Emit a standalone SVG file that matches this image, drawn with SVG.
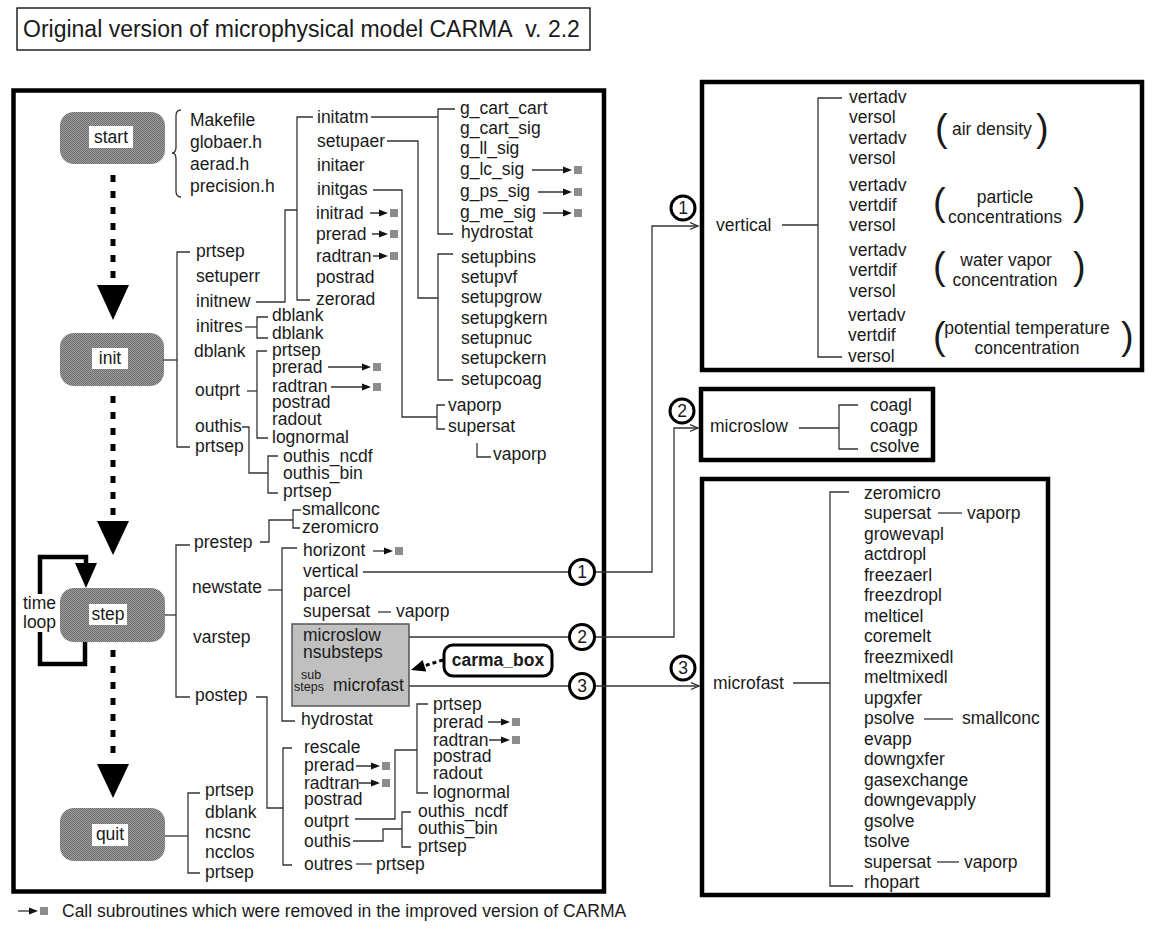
<svg xmlns="http://www.w3.org/2000/svg" xmlns:xlink="http://www.w3.org/1999/xlink" width="1152" height="931" viewBox="0 0 1152 931">
<style>
.t{font-family:"Liberation Sans",Arial,sans-serif;font-size:17.5px;fill:#1a1a1a}
.s{font-size:12.5px}
.p{font-size:38px;font-weight:normal}
.b{font-weight:bold}
.m{text-anchor:middle}
.ln{fill:none;stroke:#333;stroke-width:1.3}
.frame{fill:none;stroke:#000;stroke-width:4.5}
.node{fill:url(#dots)}
.lab{fill:#fff}
.dot{fill:none;stroke:#000;stroke-width:5;stroke-dasharray:7 9}
.circ{fill:#fff;stroke:#000;stroke-width:3}
</style>
<defs>
<pattern id="dots" width="2" height="2" patternUnits="userSpaceOnUse">
<rect width="2" height="2" fill="#a0a0a0"/>
<rect width="1" height="1" fill="#6c6c6c"/>
<rect x="1" y="1" width="1" height="1" fill="#6c6c6c"/>
</pattern>
<g id="rm"><path d="M-9,-3.5 L0,0 L-9,3.5 Z" fill="#111"/><rect x="2" y="-4" width="8" height="8" fill="#8c8c8c"/></g>
<marker id="open" markerWidth="10" markerHeight="10" refX="8" refY="4" orient="auto" markerUnits="userSpaceOnUse">
<path d="M0,0.5 L8,4 L0,7.5" fill="none" stroke="#333" stroke-width="1.3"/>
</marker>
</defs>
<rect width="1152" height="931" fill="#fff"/>

<g id="title">
<rect x="17" y="8" width="573" height="42" fill="none" stroke="#000" stroke-width="1.3"/>
<text class="t" x="23" y="37" style="font-size:23px">Original version of microphysical model CARMA&#160; v. 2.2</text>
</g>

<g id="main-frame"><rect class="frame" x="13.5" y="90.5" width="590.5" height="801"/></g>

<g id="node-start">
<rect class="node" x="60" y="112" width="105" height="52" rx="14"/>
<rect class="lab" x="89" y="126" width="44" height="22"/>
<text class="t m" x="111" y="143">start</text>
</g>
<g id="node-init">
<rect class="node" x="60" y="333" width="104" height="53" rx="14"/>
<rect class="lab" x="92" y="348" width="36" height="21"/>
<text class="t m" x="110" y="364">init</text>
</g>
<g id="node-step">
<rect class="node" x="60" y="588" width="105" height="54" rx="14"/>
<rect class="lab" x="89" y="604" width="38" height="21"/>
<text class="t m" x="108" y="620">step</text>
</g>
<g id="node-quit">
<rect class="node" x="60" y="808" width="105" height="53" rx="14"/>
<rect class="lab" x="92" y="824" width="36" height="22"/>
<text class="t m" x="110" y="840">quit</text>
</g>

<g id="flow">
<line class="dot" x1="113" y1="175" x2="113" y2="280"/>
<polygon points="97,285 129,285 113,320" fill="#000"/>
<line class="dot" x1="113" y1="396" x2="113" y2="515"/>
<polygon points="97,521 129,521 113,555" fill="#000"/>
<line class="dot" x1="113" y1="650" x2="113" y2="758"/>
<polygon points="97,764 129,764 113,798" fill="#000"/>
<path d="M85,642 V664 H40 V557 H86 V566" fill="none" stroke="#000" stroke-width="4.5"/>
<polygon points="75,563 97,563 86,588" fill="#000"/>
<rect x="22" y="594" width="37" height="38" fill="#fff"/>
<text class="t" x="23" y="609">time</text>
<text class="t" x="23" y="628">loop</text>
</g>

<g id="start-files">
<path class="ln" d="M181,110 Q176,110 176,116 V147 Q176,153 172,153 Q176,153 176,159 V191 Q176,197 181,197"/>
<text class="t" x="190" y="126">Makefile</text>
<text class="t" x="190" y="148">globaer.h</text>
<text class="t" x="190" y="170">aerad.h</text>
<text class="t" x="190" y="192">precision.h</text>
</g>

<g id="connectors">
<path class="ln" d="M163,360 H177"/>
<path class="ln" d="M190,252 H177 V447 H190"/>
<path class="ln" d="M256,302 H285 V210 H297"/>
<path class="ln" d="M313,117 H297 V300 H310"/>
<path class="ln" d="M371,117 H438"/>
<path class="ln" d="M455,109 H438 V234 H453"/>
<path class="ln" d="M387,141 H418 V298 H438"/>
<path class="ln" d="M453,254 H438 V380 H453"/>
<path class="ln" d="M373,190 H402 V417 H437"/>
<path class="ln" d="M445,405 H437 V429 H445"/>
<path class="ln" d="M477,443 V457 H491"/>
<path class="ln" d="M245,327 H257"/>
<path class="ln" d="M268,317 H257 V338 H268"/>
<path class="ln" d="M247,391 H257"/>
<path class="ln" d="M267,351 H257 V438 H268"/>
<path class="ln" d="M242,427 H249 V473 H268"/>
<path class="ln" d="M278,456 H268 V493 H278"/>
<path class="ln" d="M532,170 H565 M538,192 H565 M543,213 H565"/>
<path class="ln" d="M370,213 H381 M372,234 H381 M373,256 H381"/>
<path class="ln" d="M328,367 H364 M331,387 H364"/>
<path class="ln" d="M165,615 H176"/>
<path class="ln" d="M190,545 H176 V697 H190"/>
<path class="ln" d="M260,542 H269 V520 H293"/>
<path class="ln" d="M301,510 H293 V528 H300"/>
<path class="ln" d="M268,590 H282"/>
<path class="ln" d="M297,548 H282 V721 H295"/>
<path class="ln" d="M373,551 H386"/>
<path class="ln" d="M378,612 H391"/>
<path class="ln" d="M256,697 H267 V808 H283"/>
<path class="ln" d="M292,748 H283 V865 H292"/>
<path class="ln" d="M356,766 H373 M359,783 H373"/>
<path class="ln" d="M356,864 H372"/>
<path class="ln" d="M355,819 H395 V750 H417"/>
<path class="ln" d="M428,704 H417 V793 H428"/>
<path class="ln" d="M488,722 H503 M489,740 H503"/>
<path class="ln" d="M353,841 H383 V829 H402"/>
<path class="ln" d="M411,812 H402 V847 H411"/>
<path class="ln" d="M165,836 H188"/>
<path class="ln" d="M200,793 H188 V873 H200"/>
<path class="ln" d="M363,572 H570"/>
<path class="ln" d="M388,637 H570"/>
<path class="ln" d="M408,686 H570"/>
<path class="ln" d="M595,572 H652 V226 H698" marker-end="url(#open)"/>
<path class="ln" d="M595,637 H674 V428 H698" marker-end="url(#open)"/>
<path class="ln" d="M595,686 H699" marker-end="url(#open)"/>
<path class="ln" d="M327,671 V663 H346 V669"/>
<polygon points="342.5,668 349.5,668 346,675" fill="#111"/>
<path class="ln" d="M327,694 V699 H346 V694"/>
<line x1="443" y1="660" x2="425" y2="665.6" stroke="#000" stroke-width="3" stroke-dasharray="4 3"/>
<polygon points="411,670 422.6,660.1 426.2,671.5" fill="#000"/>
<use href="#rm" x="572" y="170"/>
<use href="#rm" x="572" y="192"/>
<use href="#rm" x="572" y="213"/>
<use href="#rm" x="388" y="213"/>
<use href="#rm" x="388" y="234"/>
<use href="#rm" x="388" y="256"/>
<use href="#rm" x="371" y="367"/>
<use href="#rm" x="371" y="387"/>
<use href="#rm" x="393" y="551"/>
<use href="#rm" x="380" y="766"/>
<use href="#rm" x="380" y="783"/>
<use href="#rm" x="510" y="722"/>
<use href="#rm" x="510" y="740"/>
</g>

<g id="init-calls">
<text class="t" x="196" y="257">prtsep</text>
<text class="t" x="196" y="282">setuperr</text>
<text class="t" x="196" y="307">initnew</text>
<text class="t" x="196" y="332">initres</text>
<text class="t" x="194" y="357">dblank</text>
<text class="t" x="195" y="396">outprt</text>
<text class="t" x="195" y="432">outhis</text>
<text class="t" x="195" y="452">prtsep</text>
</g>
<g id="initnew-calls">
<text class="t" x="317" y="122.5">initatm</text>
<text class="t" x="317" y="146.5">setupaer</text>
<text class="t" x="317" y="170.5">initaer</text>
<text class="t" x="317" y="194.5">initgas</text>
<text class="t" x="316" y="218.5">initrad</text>
<text class="t" x="316" y="239.5">prerad</text>
<text class="t" x="316" y="261.5">radtran</text>
<text class="t" x="316" y="282.5">postrad</text>
<text class="t" x="316" y="304.5">zerorad</text>
</g>
<g id="initatm-calls">
<text class="t" x="460" y="113.5">g_cart_cart</text>
<text class="t" x="460" y="133.5">g_cart_sig</text>
<text class="t" x="460" y="153.5">g_ll_sig</text>
<text class="t" x="460" y="174.5">g_lc_sig</text>
<text class="t" x="460" y="196.5">g_ps_sig</text>
<text class="t" x="460" y="217.5">g_me_sig</text>
<text class="t" x="461" y="237.5">hydrostat</text>
</g>
<g id="setupaer-calls">
<text class="t" x="461" y="263">setupbins</text>
<text class="t" x="461" y="283">setupvf</text>
<text class="t" x="461" y="303">setupgrow</text>
<text class="t" x="461" y="323.5">setupgkern</text>
<text class="t" x="461" y="343.5">setupnuc</text>
<text class="t" x="461" y="364">setupckern</text>
<text class="t" x="461" y="384.5">setupcoag</text>
</g>
<g id="initgas-calls">
<text class="t" x="448" y="411">vaporp</text>
<text class="t" x="448" y="432">supersat</text>
<text class="t" x="493" y="460">vaporp</text>
</g>
<g id="initres-calls">
<text class="t" x="272" y="321">dblank</text>
<text class="t" x="272" y="339">dblank</text>
</g>
<g id="outprt-calls-init">
<text class="t" x="272" y="356">prtsep</text>
<text class="t" x="272" y="373">prerad</text>
<text class="t" x="272" y="392">radtran</text>
<text class="t" x="272" y="408">postrad</text>
<text class="t" x="272" y="425">radout</text>
<text class="t" x="272" y="443">lognormal</text>
</g>
<g id="outhis-calls-init">
<text class="t" x="283" y="462">outhis_ncdf</text>
<text class="t" x="283" y="479">outhis_bin</text>
<text class="t" x="283" y="497">prtsep</text>
</g>

<g id="step-calls">
<text class="t" x="194" y="547.5">prestep</text>
<text class="t" x="192" y="593">newstate</text>
<text class="t" x="193" y="643">varstep</text>
<text class="t" x="195" y="701">postep</text>
</g>
<g id="prestep-calls">
<text class="t" x="302" y="515">smallconc</text>
<text class="t" x="302" y="533">zeromicro</text>
</g>
<g id="newstate-calls">
<text class="t" x="303" y="556">horizont</text>
<text class="t" x="303" y="576.5">vertical</text>
<text class="t" x="303" y="597">parcel</text>
<text class="t" x="303" y="617">supersat</text>
<text class="t" x="396" y="617">vaporp</text>
<text class="t" x="301" y="724.5">hydrostat</text>
</g>
<g id="carma-region">
<rect x="292" y="624" width="117" height="82" fill="#c0c0c0" stroke="#555" stroke-width="1.5"/>
<text class="t" x="303" y="641">microslow</text>
<text class="t" x="303" y="658">nsubsteps</text>
<text class="t s" x="301" y="679">sub</text>
<text class="t s" x="294" y="691">steps</text>
<text class="t" x="333" y="691">microfast</text>
</g>
<g id="carma-box-label">
<rect x="444" y="645" width="108" height="31" rx="9" fill="#fff" stroke="#000" stroke-width="3"/>
<text class="t b m" x="498" y="666">carma_box</text>
</g>
<g id="postep-calls">
<text class="t" x="304" y="752.5">rescale</text>
<text class="t" x="304" y="770.5">prerad</text>
<text class="t" x="304" y="788.5">radtran</text>
<text class="t" x="304" y="804.5">postrad</text>
<text class="t" x="304" y="826.5">outprt</text>
<text class="t" x="304" y="846.5">outhis</text>
<text class="t" x="304" y="869.5">outres</text>
<text class="t" x="376" y="869.5">prtsep</text>
</g>
<g id="outprt-calls-step">
<text class="t" x="433" y="709.5">prtsep</text>
<text class="t" x="433" y="727.5">prerad</text>
<text class="t" x="433" y="745.5">radtran</text>
<text class="t" x="433" y="761.5">postrad</text>
<text class="t" x="433" y="778.5">radout</text>
<text class="t" x="433" y="797.5">lognormal</text>
</g>
<g id="outhis-calls-step">
<text class="t" x="418" y="816.5">outhis_ncdf</text>
<text class="t" x="418" y="833.5">outhis_bin</text>
<text class="t" x="418" y="851.5">prtsep</text>
</g>
<g id="quit-calls">
<text class="t" x="205" y="795.5">prtsep</text>
<text class="t" x="205" y="817.5">dblank</text>
<text class="t" x="205" y="837.5">ncsnc</text>
<text class="t" x="205" y="857.5">ncclos</text>
<text class="t" x="205" y="877.5">prtsep</text>
</g>

<g id="ref-circles">
<circle class="circ" cx="582" cy="572" r="12.5"/><text class="t m" x="582" y="578">1</text>
<circle class="circ" cx="582" cy="637" r="12.5"/><text class="t m" x="582" y="643">2</text>
<circle class="circ" cx="582" cy="686" r="12.5"/><text class="t m" x="582" y="692">3</text>
<circle class="circ" cx="683" cy="208" r="12"/><text class="t m" x="683" y="214">1</text>
<circle class="circ" cx="682" cy="411" r="12"/><text class="t m" x="682" y="417">2</text>
<circle class="circ" cx="683" cy="668" r="12"/><text class="t m" x="683" y="674">3</text>
</g>

<g id="box-vertical">
<rect class="frame" x="702" y="82" width="440" height="288"/>
<text class="t" x="716" y="231">vertical</text>
<path class="ln" d="M782,225 H818"/>
<path class="ln" d="M842,98 H818 V357 H842"/>
<text class="t" x="849" y="102.5">vertadv</text>
<text class="t" x="849" y="122.5">versol</text>
<text class="t" x="849" y="143.5">vertadv</text>
<text class="t" x="849" y="163.5">versol</text>
<text class="t" x="849" y="190.5">vertadv</text>
<text class="t" x="849" y="210.5">vertdif</text>
<text class="t" x="849" y="230.5">versol</text>
<text class="t" x="849" y="255.5">vertadv</text>
<text class="t" x="849" y="275.5">vertdif</text>
<text class="t" x="849" y="296.5">versol</text>
<text class="t" x="848" y="320.5">vertadv</text>
<text class="t" x="848" y="340.5">vertdif</text>
<text class="t" x="848" y="361.5">versol</text>
<text class="t p" x="935" y="141">(</text>
<text class="t" x="952" y="134.5">air density</text>
<text class="t p" x="1036" y="141">)</text>
<text class="t p" x="933" y="215">(</text>
<text class="t m" x="1005" y="203">particle</text>
<text class="t m" x="1005" y="222.5">concentrations</text>
<text class="t p" x="1073" y="215">)</text>
<text class="t p" x="933" y="279">(</text>
<text class="t m" x="1006" y="265.5">water vapor</text>
<text class="t m" x="1005" y="285.5">concentration</text>
<text class="t p" x="1073" y="279">)</text>
<text class="t p" x="933" y="349">(</text>
<text class="t m" x="1027" y="333.5">potential temperature</text>
<text class="t m" x="1027" y="353.5">concentration</text>
<text class="t p" x="1121" y="349">)</text>
</g>

<g id="box-microslow">
<rect class="frame" x="701" y="389" width="232" height="71"/>
<text class="t" x="710" y="432">microslow</text>
<path class="ln" d="M799,428 H839"/>
<path class="ln" d="M858,405 H839 V449 H858"/>
<text class="t" x="870" y="410.5">coagl</text>
<text class="t" x="870" y="431.5">coagp</text>
<text class="t" x="870" y="451.5">csolve</text>
</g>

<g id="box-microfast">
<rect class="frame" x="702" y="479" width="346" height="416"/>
<text class="t" x="713" y="689">microfast</text>
<path class="ln" d="M793,683 H830"/>
<path class="ln" d="M849,492 H830 V886 H853"/>
<path class="ln" d="M938,513 H962"/>
<path class="ln" d="M924,719 H953"/>
<path class="ln" d="M937,862 H959"/>
<text class="t" x="864" y="498.5">zeromicro</text>
<text class="t" x="864" y="519">supersat</text>
<text class="t" x="967" y="519">vaporp</text>
<text class="t" x="864" y="539.5">growevapl</text>
<text class="t" x="864" y="560">actdropl</text>
<text class="t" x="864" y="580.5">freezaerl</text>
<text class="t" x="864" y="601">freezdropl</text>
<text class="t" x="864" y="621.5">melticel</text>
<text class="t" x="864" y="642">coremelt</text>
<text class="t" x="864" y="662.5">freezmixedl</text>
<text class="t" x="864" y="683">meltmixedl</text>
<text class="t" x="864" y="703.5">upgxfer</text>
<text class="t" x="864" y="724">psolve</text>
<text class="t" x="962" y="724">smallconc</text>
<text class="t" x="864" y="744.5">evapp</text>
<text class="t" x="864" y="765">downgxfer</text>
<text class="t" x="864" y="785.5">gasexchange</text>
<text class="t" x="864" y="806">downgevapply</text>
<text class="t" x="864" y="826.5">gsolve</text>
<text class="t" x="864" y="847">tsolve</text>
<text class="t" x="864" y="867.5">supersat</text>
<text class="t" x="964" y="867.5">vaporp</text>
<text class="t" x="864" y="888">rhopart</text>
</g>

<g id="legend">
<path class="ln" d="M18,911 H31"/>
<use href="#rm" x="38" y="911"/>
<text class="t" x="62" y="917">Call subroutines which were removed in the improved version of CARMA</text>
</g>
</svg>
